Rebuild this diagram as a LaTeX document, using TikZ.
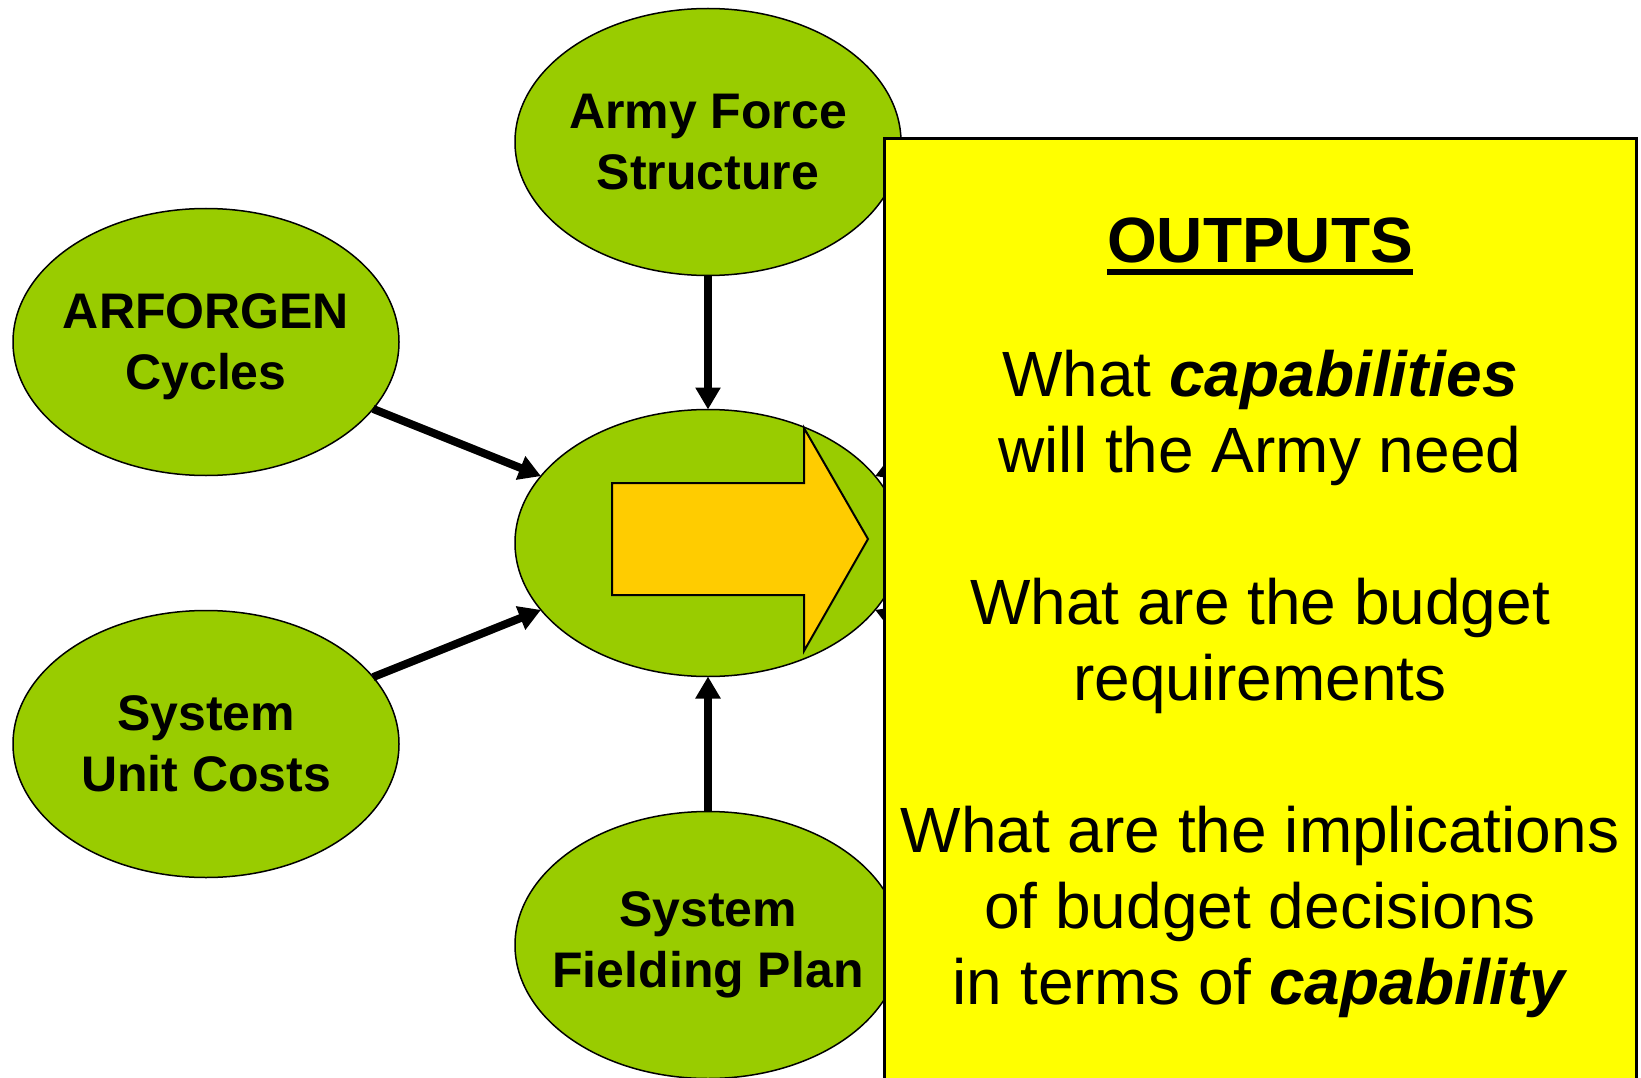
\documentclass[tikz,border=0pt]{standalone}
\usepackage{fontspec}
\setmainfont{Liberation Sans}
\usetikzlibrary{shapes.geometric, arrows.meta}
\definecolor{leafgreen}{HTML}{99CC00}
\definecolor{outyellow}{HTML}{FFFF00}
\definecolor{arrowgold}{HTML}{FFCC00}
\newcommand{\emword}[1]{\textbf{\textit{#1}}}

\begin{document}
\begin{tikzpicture}[x=1pt,y=-1pt]
    \tikzstyle{input}=[ellipse, draw=black, line width=1.5pt, fill=leafgreen, minimum width=386pt, minimum height=267pt, inner sep=-60pt, outer sep=0pt, align=center, font=\bfseries\fontsize{50}{61}\selectfont]
    \tikzstyle{flow}=[line width=8pt, -{Triangle[length=22pt,width=24pt]}]
    \useasboundingbox (0,0) rectangle (1641,1078);
    \clip (0,0) rectangle (1641,1078);
    % input ellipses
    \node[input] (afs) at (708,142) {Army Force\\Structure};
    \node[input] (arf) at (206,342) {ARFORGEN\\\smash{Cycles}};
    \node[input] (suc) at (206,744) {System\\Unit Costs};
    \node[input] (sfp) at (708,945) {System\\Fielding Plan};
    \node[input] (hub) at (708,543) {};
    % right-hand inputs (under the box)
    \coordinate (rtop) at (1210,342);
    \coordinate (rbot) at (1210,744);
    % connectors
    \draw[flow] (afs) -- (hub);
    \draw[flow] (arf) -- (hub);
    \draw[flow] (suc) -- (hub);
    \draw[flow] (sfp) -- (hub);
    \draw[flow] (rtop) -- (hub);
    \draw[flow] (rbot) -- (hub);
    % block arrow
    \draw[fill=arrowgold, line width=2pt, line join=miter] (612,483) -- (804,483) -- (804,428) -- (868,539) -- (804,651) -- (804,595) -- (612,595) -- cycle;
    % outputs box
    \draw[fill=outyellow, line width=3pt] (884,139) rectangle (1636,1100);
    \node[anchor=base, inner sep=0pt, font=\bfseries\fontsize{64}{76}\selectfont] (outhead) at (1260,262) {OUTPUTS};
    \draw[line width=6pt] ([yshift=-10pt]outhead.base west) -- ([yshift=-10pt]outhead.base east);
    \node[align=center, inner sep=0pt, font=\fontsize{64}{76}\selectfont] (outbody) at (1260,684)
      {What \emword{capabilities}~\\ will the Army need\\[76pt]
       What are the budget~\\ requirements\\[76pt]
       What are the implications\\ of budget decisions~\\ in terms of \emword{capability}};
\end{tikzpicture}
\end{document}
